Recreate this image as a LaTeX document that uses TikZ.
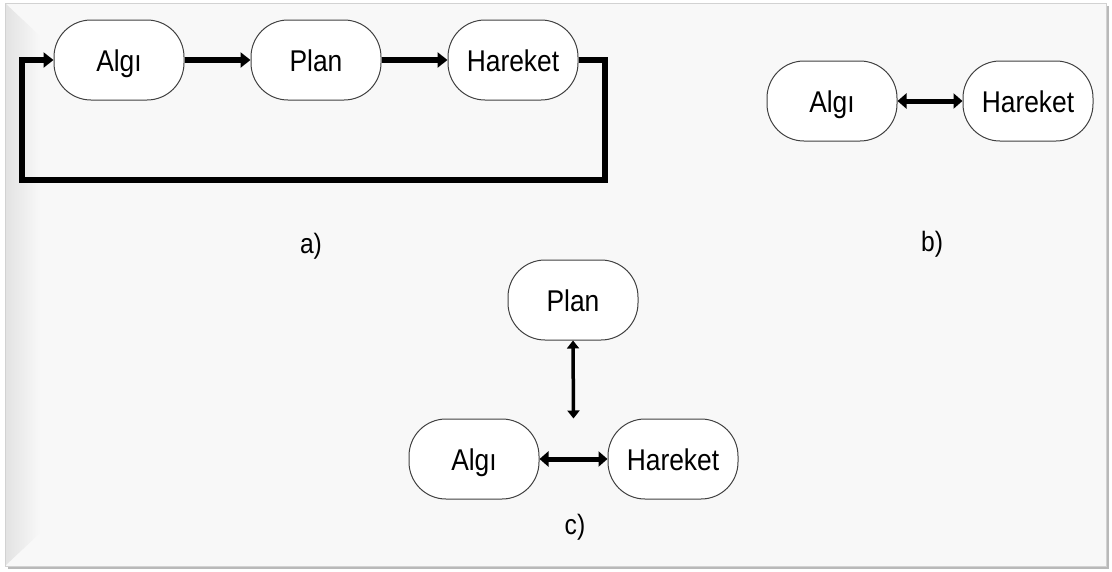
\documentclass[tikz,border=0pt]{standalone}
\usepackage{fontspec}
\setmainfont{Liberation Sans}
\newfontfamily\narrowsf[FakeStretch=0.88]{Liberation Sans}
\usetikzlibrary{positioning, arrows.meta, calc}
\definecolor{bgc}{HTML}{F8F8F8}

\begin{document}
\begin{tikzpicture}[
  x=1pt, y=-1pt,
  every node/.style={font=\narrowsf\fontsize{30}{34}\selectfont},
  box/.style   = {draw=black!75, line width=1pt, fill=white, rounded corners=37pt, minimum width=130pt, minimum height=80pt, inner sep=0pt, text height=23pt, text depth=0pt},
  arr/.style   = {-{Triangle[length=10pt, width=15pt]}, line width=6pt},
  dbl/.style   = {{Triangle[length=9pt, width=15pt]}-{Triangle[length=9pt, width=15pt]}, line width=5pt},
  thin/.style  = {{Triangle[length=8pt, width=12pt]}-{Triangle[length=8pt, width=12pt]}, line width=3.5pt},
  lab/.style   = {font=\narrowsf\fontsize{28}{32}\selectfont},
]
  \useasboundingbox (0,0) rectangle (1112,571);
  % frame with shadow
  \fill[gray!55] (8,6) rectangle (1109,569);
  \filldraw[fill=bgc, draw=gray!35] (5,3) rectangle (1106,566);
  \shade[left color=gray!22, right color=bgc] (6,4) -- (40,36) -- (40,533) -- (6,565) -- cycle;

  % a)
  \node[box]                     (algiA) at (119,60) {Algı};
  \node[box, right=66pt of algiA] (planA)          {Plan};
  \node[box, right=66pt of planA] (harA)           {Hareket};
  \coordinate (loopR) at (605,180);
  \coordinate (loopL) at (22,180);
  \draw[arr] (algiA) -- (planA);
  \draw[arr] (planA) -- (harA);
  \draw[arr] (harA.east) -| (loopR) -- (loopL) |- (algiA.west);
  \node[lab] (labA) at (311,246) {a)};

  % b)
  \node[box]                      (algiB) at (832,101) {Algı};
  \node[box, right=65pt of algiB] (harB)             {Hareket};
  \draw[dbl] (algiB) -- (harB);
  \node[lab] (labB) at (932,244) {b)};

  % c)
  \node[box]                      (planC) at (573,300) {Plan};
  \node[box]                      (algiC) at (474,459) {Algı};
  \node[box, right=68pt of algiC] (harC)             {Hareket};
  \coordinate (midC) at ($(algiC.north east)!0.5!(harC.north west)$);
  \draw[dbl] (algiC) -- (harC);
  \draw[thin] (planC.south) -- (midC);
  \node[lab] (labC) at (575,527) {c)};
\end{tikzpicture}
\end{document}
